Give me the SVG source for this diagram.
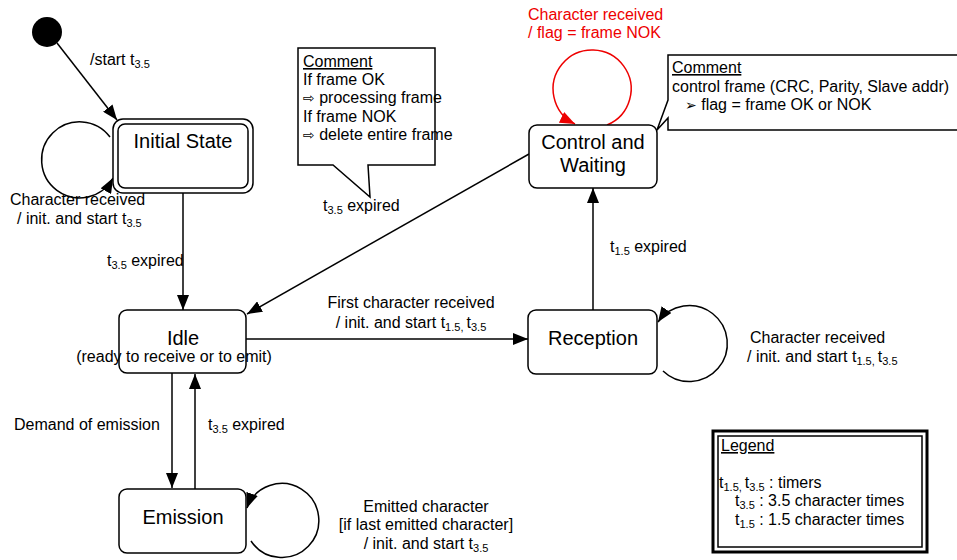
<svg xmlns="http://www.w3.org/2000/svg" width="957" height="560" viewBox="0 0 957 560">
<style>
text{font-family:"Liberation Sans",Arial,sans-serif;fill:#000}
.node{font-size:20px;text-anchor:middle}
.lbl{font-size:16px}
.c{text-anchor:middle}
.sub{font-size:11px}
.box{fill:#fff;stroke:#000;stroke-width:1.5}
.edge{fill:none;stroke:#000;stroke-width:1.5}
.red{fill:none;stroke:#e00;stroke-width:1.5}
.red-t{fill:#e00}
.u{text-decoration:underline}
.arw{font-family:"DejaVu Sans",sans-serif;font-size:14px}
</style>
<defs>
<marker id="ah" markerUnits="userSpaceOnUse" markerWidth="16" markerHeight="12" refX="15" refY="6" orient="auto"><path d="M0,0 L15,6 L0,12 Z" fill="#000"/></marker>
<marker id="ahr" markerUnits="userSpaceOnUse" markerWidth="16" markerHeight="12" refX="15" refY="6" orient="auto"><path d="M0,0 L15,6 L0,12 Z" fill="#e00"/></marker>
</defs>

<g id="connectors">
<line class="edge" x1="57" y1="43" x2="117" y2="120" marker-end="url(#ah)"/>
<path class="edge" d="M110,137 A38,38 0 1 0 113,178" marker-end="url(#ah)"/>
<line class="edge" x1="183" y1="193" x2="183" y2="310" marker-end="url(#ah)"/>
<line class="edge" x1="529" y1="154" x2="247" y2="314" marker-end="url(#ah)"/>
<line class="edge" x1="246" y1="339" x2="528" y2="339" marker-end="url(#ah)"/>
<line class="edge" x1="172" y1="373" x2="172" y2="488" marker-end="url(#ah)"/>
<line class="edge" x1="195" y1="489" x2="195" y2="374" marker-end="url(#ah)"/>
<path class="edge" d="M251,541 A37,37 0 1 0 247,508" marker-end="url(#ah)"/>
<path class="edge" d="M663,371 A38,38 0 1 0 658,322" marker-end="url(#ah)"/>
<line class="edge" x1="593" y1="310" x2="593" y2="188" marker-end="url(#ah)"/>
<path class="red" d="M607,125 A39,39 0 1 0 575,124" marker-end="url(#ahr)"/>
</g>

<g id="start">
<circle cx="47" cy="32" r="15" fill="#000"/>
</g>

<g id="initial-state">
<rect class="box" x="113" y="119" width="140" height="74" rx="10"/>
<rect class="box" x="118" y="124" width="130" height="64" rx="7"/>
<text class="node" x="183" y="148">Initial State</text>
</g>

<g id="idle">
<rect class="box" x="119" y="310" width="127" height="63" rx="8"/>
<text class="node" x="183" y="345">Idle</text>
<text class="lbl c" x="174" y="362">(ready to receive or to emit)</text>
</g>

<g id="emission">
<rect class="box" x="119" y="489" width="127" height="64" rx="8"/>
<text class="node" x="183" y="524">Emission</text>
</g>

<g id="reception">
<rect class="box" x="528" y="310" width="129" height="64" rx="8"/>
<text class="node" x="593" y="345">Reception</text>
</g>

<g id="control-waiting">
<rect class="box" x="529" y="125" width="128" height="63" rx="8"/>
<text class="node" x="593" y="149">Control and</text>
<text class="node" x="593" y="172">Waiting</text>
</g>

<g id="comment1">
<path class="box" d="M298,48 H435 V165 H368 L370,197 L333,165 H298 Z"/>
<text class="lbl" x="303" y="67"><tspan class="u">Comment</tspan></text>
<text class="lbl" x="303" y="85">If frame OK</text>
<text class="lbl" x="303" y="103"><tspan class="arw">⇨</tspan> processing frame</text>
<text class="lbl" x="303" y="122">If frame NOK</text>
<text class="lbl" x="303" y="140"><tspan class="arw">⇨</tspan> delete entire frame</text>
</g>

<g id="comment2">
<path class="box" d="M668,55 H960 V130 H668 V118 L657,130 L668,100 Z"/>
<text class="lbl" x="672" y="73"><tspan class="u">Comment</tspan></text>
<text class="lbl" x="672" y="92">control frame (CRC, Parity, Slave addr)</text>
<text class="lbl" x="685" y="110"><tspan class="arw">➢</tspan> flag = frame OK or NOK</text>
</g>

<g id="legend">
<rect x="713" y="431" width="214" height="121" fill="#fff" stroke="#000" stroke-width="3"/>
<rect x="718" y="436" width="204" height="111" fill="none" stroke="#000" stroke-width="1.5"/>
<text class="lbl" x="721" y="451"><tspan class="u">Legend</tspan></text>
<text class="lbl" x="719" y="488">t<tspan class="sub" dy="3">1.5, </tspan><tspan dy="-3">t</tspan><tspan class="sub" dy="3">3.5</tspan><tspan dy="-3"> : timers</tspan></text>
<text class="lbl" x="735" y="506">t<tspan class="sub" dy="3">3.5</tspan><tspan dy="-3"> : 3.5 character times</tspan></text>
<text class="lbl" x="735" y="525">t<tspan class="sub" dy="3">1.5</tspan><tspan dy="-3"> : 1.5 character times</tspan></text>
</g>

<g id="labels">
<text class="lbl" x="90" y="65">/start t<tspan class="sub" dy="3">3.5</tspan></text>
<text class="lbl" x="10" y="205">Character received</text>
<text class="lbl" x="17" y="224">/ init. and start t<tspan class="sub" dy="3">3.5</tspan></text>
<text class="lbl" x="107" y="266">t<tspan class="sub" dy="3">3.5</tspan><tspan dy="-3"> expired</tspan></text>
<text class="lbl" x="323" y="211">t<tspan class="sub" dy="3">3.5</tspan><tspan dy="-3"> expired</tspan></text>
<text class="lbl red-t" x="528" y="20">Character received</text>
<text class="lbl red-t" x="528" y="38">/ flag = frame NOK</text>
<text class="lbl" x="610" y="252">t<tspan class="sub" dy="3">1.5</tspan><tspan dy="-3"> expired</tspan></text>
<text class="lbl c" x="411" y="308">First character received</text>
<text class="lbl c" x="411" y="328">/ init. and start t<tspan class="sub" dy="3">1.5, </tspan><tspan dy="-3">t</tspan><tspan class="sub" dy="3">3.5</tspan></text>
<text class="lbl" x="750" y="343">Character received</text>
<text class="lbl" x="747" y="362">/ init. and start t<tspan class="sub" dy="3">1.5, </tspan><tspan dy="-3">t</tspan><tspan class="sub" dy="3">3.5</tspan></text>
<text class="lbl" x="14" y="430">Demand of emission</text>
<text class="lbl" x="208" y="430">t<tspan class="sub" dy="3">3.5</tspan><tspan dy="-3"> expired</tspan></text>
<text class="lbl c" x="426" y="512">Emitted character</text>
<text class="lbl c" x="426" y="530">[if last emitted character]</text>
<text class="lbl c" x="426" y="549">/ init. and start t<tspan class="sub" dy="3">3.5</tspan></text>
</g>
</svg>
